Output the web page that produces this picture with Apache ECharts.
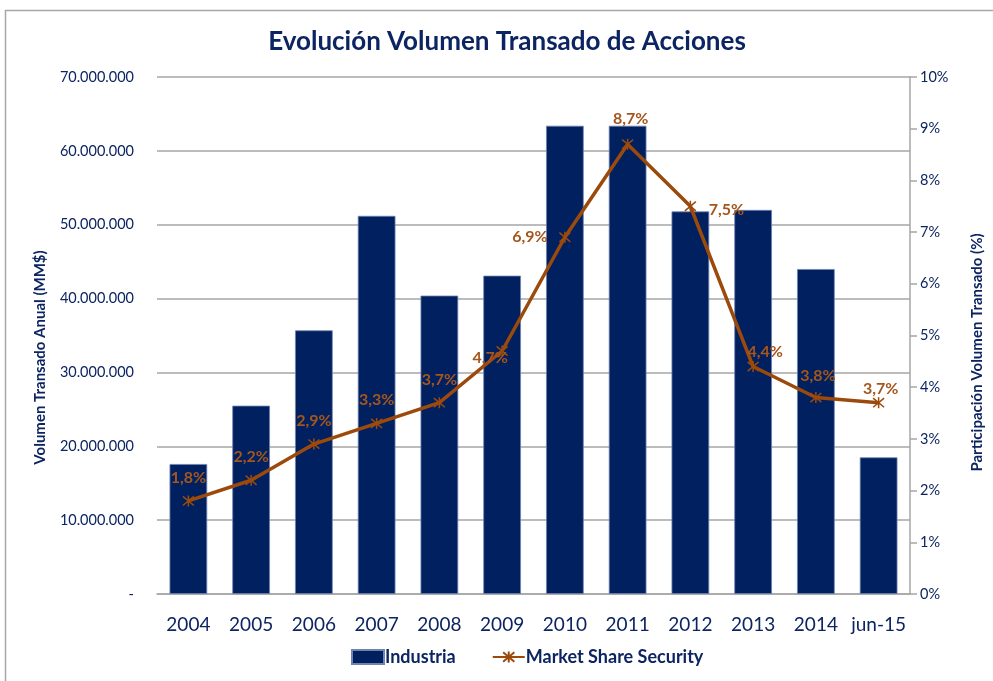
<!DOCTYPE html>
<html>
<head>
<meta charset="utf-8">
<script src="https://cdn.jsdelivr.net/npm/echarts@6/dist/echarts.min.js"></script>
<style>
html,body{margin:0;padding:0;background:#fff;}
#chart{width:993px;height:681px;}
</style>
</head>
<body>
<div id="chart"></div>
<script>
const categories = ['2004','2005','2006','2007','2008','2009','2010','2011','2012','2013','2014','jun-15'];
const industria = [17600000,25500000,35700000,51200000,40400000,43100000,63400000,63400000,51800000,52000000,44000000,18500000];
const marketShare = [1.8,2.2,2.9,3.3,3.7,4.7,6.9,8.7,7.5,4.4,3.8,3.7];
const leftTicks = ['-','10.000.000','20.000.000','30.000.000','40.000.000','50.000.000','60.000.000','70.000.000'];
const rightTicks = ['0%','1%','2%','3%','4%','5%','6%','7%','8%','9%','10%'];

// label placement tweaks (style only)
const labelPlace = [
  {position:'top', offset:[0,0]},
  {position:'top', offset:[0,0]},
  {position:'top', offset:[0,0]},
  {position:'top', offset:[0,0]},
  {position:'top', offset:[0,0]},
  {position:'top', offset:[-12,30]},
  {position:'left', offset:[-2,0]},
  {position:'top', offset:[3,-2]},
  {position:'right', offset:[3,4]},
  {position:'top', offset:[12,9]},
  {position:'top', offset:[2,2]},
  {position:'top', offset:[2,9]}
];

const navy = '#0C2461';
const barColor = '#002060';
const lineColor = '#9C4A0C';
const font = 'Lato, "Noto Sans", sans-serif';
const star = 'path://M0,0 L10,10 M10,0 L0,10 M5,-1 L5,11';

const chart = echarts.init(document.getElementById('chart'), null, {renderer:'canvas'});
chart.setOption({
  backgroundColor:'#fff',
  animation:false,
  textStyle:{fontFamily:font},
  graphic:[{
    type:'polyline', silent:true,
    shape:{points:[[5.5,700],[5.5,10.5],[993,10.5]]},
    style:{stroke:'#A6A6A6', lineWidth:1.5, fill:null}
  }],
  title:{
    text:'Evolución Volumen Transado de Acciones',
    left:502, top:24, textAlign:'center',
    textStyle:{fontFamily:font, fontSize:26, fontWeight:'bold', color:navy}
  },
  legend:{
    bottom:10, left:346, itemGap:36, itemWidth:32, itemHeight:14,
    textStyle:{fontFamily:font, fontSize:18, fontWeight:'bold', color:navy, padding:[0,0,0,-4]},
    data:[
      {name:'Industria', icon:'rect'},
      {name:'Market Share Security'}
    ]
  },
  grid:{left:157, right:81, top:77, bottom:87, containLabel:false},
  xAxis:{
    type:'category', data:categories,
    axisLine:{lineStyle:{color:'#A6A6A6', width:1.5}},
    axisTick:{show:false},
    axisLabel:{fontFamily:font, fontSize:19, color:navy, margin:21, interval:0}
  },
  yAxis:[{
    type:'value', min:0, max:70000000, interval:10000000,
    name:'Volumen Transado Anual (MM$)', nameLocation:'middle', nameGap:109, nameRotate:90,
    nameTextStyle:{fontFamily:font, fontSize:15, fontWeight:'bold', color:navy, padding:[0,44,0,0]},
    axisLine:{show:false}, axisTick:{show:false},
    splitLine:{lineStyle:{color:'#A6A6A6', width:1.5}},
    axisLabel:{fontFamily:font, fontSize:14.5, color:navy, margin:23,
      formatter:(v)=>leftTicks[Math.round(v/10000000)]}
  },{
    type:'value', min:0, max:10, interval:1,
    name:'Participación Volumen Transado (%)', nameLocation:'middle', nameGap:60, nameRotate:90,
    nameTextStyle:{fontFamily:font, fontSize:15, fontWeight:'bold', color:navy, padding:[0,34,0,0]},
    axisLine:{show:true, lineStyle:{color:'#A6A6A6', width:1.5}},
    axisTick:{show:true, length:7, lineStyle:{color:'#A6A6A6', width:1.5}},
    splitLine:{show:false},
    axisLabel:{fontFamily:font, fontSize:14.5, color:navy, margin:10,
      formatter:(v)=>rightTicks[Math.round(v)]}
  }],
  series:[{
    name:'Industria', type:'bar', yAxisIndex:0,
    data:industria, barCategoryGap:'40%',
    itemStyle:{color:barColor, borderColor:'#6F82B0', borderWidth:0.8}
  },{
    name:'Market Share Security', type:'line', yAxisIndex:1,
    data:marketShare.map((v,i)=>({value:v, label:labelPlace[i]})),
    symbol:star, symbolSize:11, showAllSymbol:true,
    lineStyle:{color:lineColor, width:3.5},
    itemStyle:{color:lineColor, borderColor:lineColor, borderWidth:1.5},
    label:{show:true, fontFamily:font, fontSize:16, fontWeight:'bold', color:'#A5561C', distance:9,
      formatter:(p)=>p.value.toFixed(1).replace('.',',')+'%'},
    z:5
  }]
});
</script>
</body>
</html>
